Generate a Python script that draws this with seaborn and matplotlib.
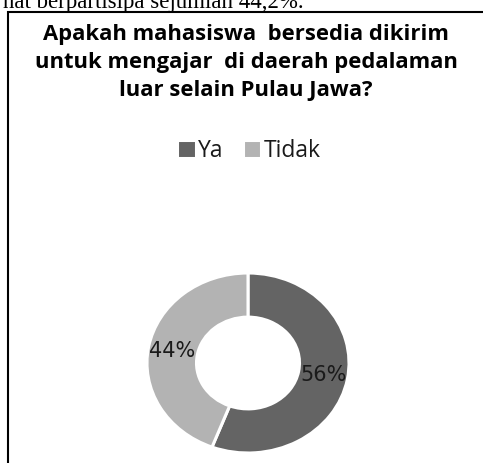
import matplotlib
matplotlib.use("Agg")
import matplotlib.pyplot as plt
from matplotlib.patches import Rectangle
import seaborn as sns

# ---- data ----
categories = ["Ya", "Tidak"]
values = [55.8, 44.2]
colors = ["#646464", "#b3b3b3"]
title_lines = ["Apakah mahasiswa  bersedia dikirim",
               "untuk mengajar  di daerah pedalaman",
               "luar selain Pulau Jawa?"]
doc_text = "nat berpartisipa sejumlah 44,2%."

sns.set_theme(style="white")
plt.rcParams['font.family'] = ['Open Sans', 'DejaVu Sans']

W, H = 483, 463
fig = plt.figure(figsize=(W / 100, H / 100), dpi=100)
fig.patch.set_facecolor("white")

def fx(px):
    return px / W

def fy(py):
    return 1 - py / H

# document text cut at the top (as in the reference page crop)
fig.text(fx(3), fy(8), doc_text, ha="left", va="baseline",
         family=["Liberation Serif", "DejaVu Serif"], fontsize=16.5, color="black")

# chart border
fig.add_artist(Rectangle((fx(8), -0.2), 1.5, fy(12) + 0.2,
                         transform=fig.transFigure, fill=False,
                         edgecolor="black", linewidth=1.5))

# title
for line, base in zip(title_lines, [40, 68, 96]):
    fig.text(fx(246), fy(base), line, ha="center", va="baseline",
             fontsize=15.8, fontweight="bold", color="black")

# donut
cx, cy, rx, ry = 248, 363, 101, 90
ax = fig.add_axes([fx(cx - rx), fy(cy + ry), (2 * rx) / W, (2 * ry) / H])
wedges, texts, autotexts = ax.pie(
    values, colors=colors, startangle=90, counterclock=False,
    radius=1.0, autopct="%.0f%%", pctdistance=0.76,
    wedgeprops=dict(width=0.49, edgecolor="white", linewidth=2.2),
    textprops=dict(fontsize=15, color="#1a1a1a", family=["DejaVu Sans"]))
ax.set_aspect("auto")
ax.set_xlim(-1, 1)
ax.set_ylim(-1, 1)
ax.axis("off")

# legend
fig.legend(wedges, categories, loc="center", bbox_to_anchor=(fx(249), fy(151)),
           ncol=2, frameon=False, fontsize=16.5, handlelength=0.8,
           handleheight=0.8, handletextpad=0.1, columnspacing=0.85,
           borderpad=0, labelcolor="#1a1a1a")

fig.savefig("out.png", dpi=100, facecolor="white")
